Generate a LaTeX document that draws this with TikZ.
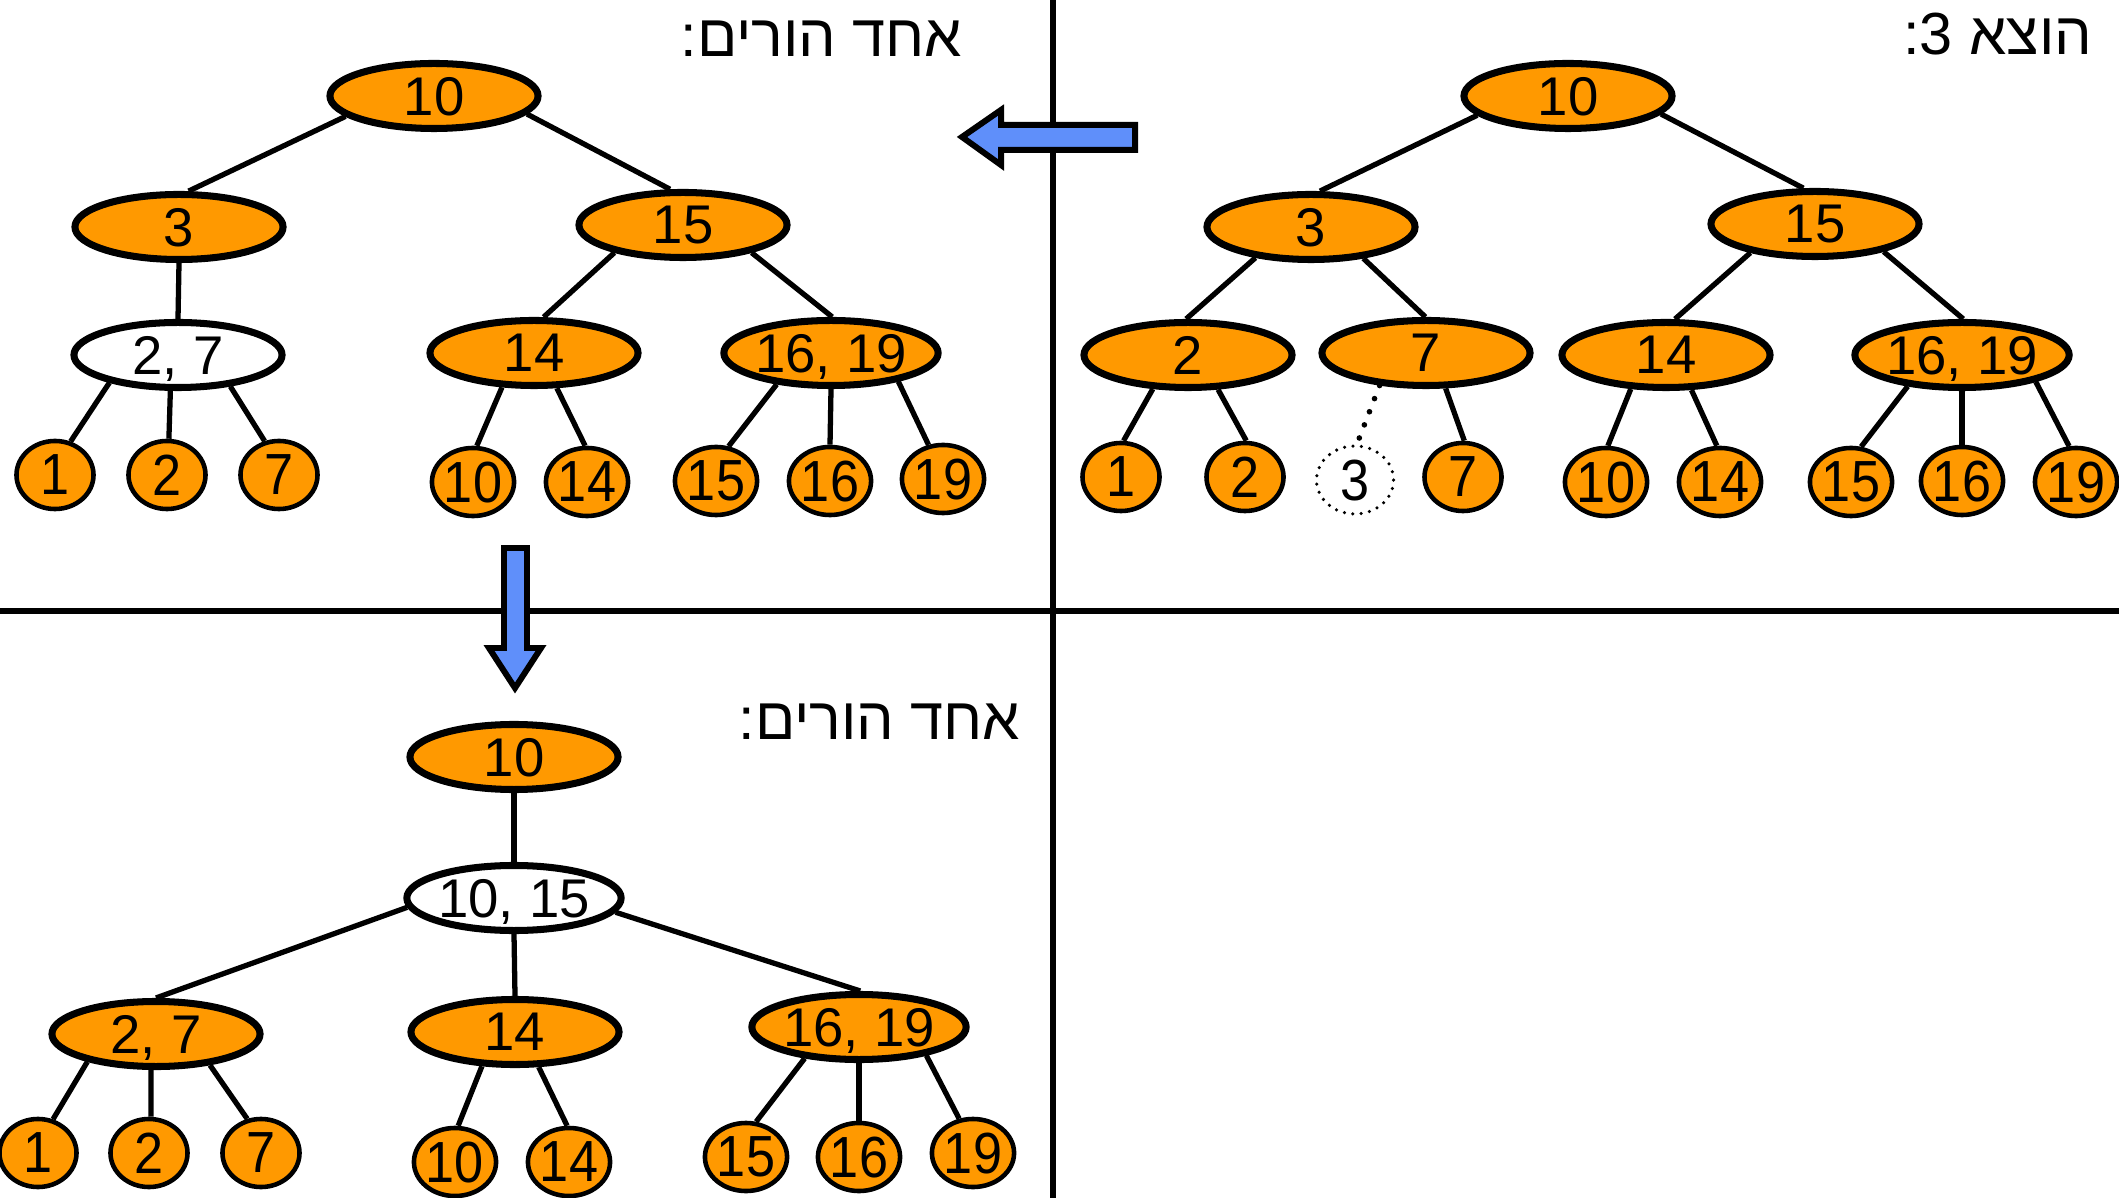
\documentclass[tikz,border=0pt]{standalone}
\usepackage{fontspec}
\setmainfont{Liberation Sans}
\newfontfamily\hebfont[Script=Hebrew]{Liberation Sans}
\newfontfamily\leaffont[FakeStretch=0.9]{Liberation Sans}
\TeXXeTstate=1
\usetikzlibrary{shapes.geometric}
\definecolor{nodeorange}{RGB}{255,153,0}
\definecolor{arrowblue}{RGB}{95,143,250}
\tikzset{
 inode/.style={ellipse, draw=black, line width=2pt, fill=nodeorange, minimum width=2.08cm, minimum height=0.65cm, inner sep=0pt, text depth=0pt, font=\fontsize{15.5}{16}\selectfont},
 wnode/.style={inode, fill=white},
 leaf/.style={ellipse, draw=black, line width=1.3pt, fill=nodeorange, minimum width=0.77cm, minimum height=0.68cm, inner sep=0pt, text depth=0pt, font=\leaffont\fontsize{16.5}{17}\selectfont},
 ghost/.style={leaf, fill=none, line width=1pt, dash pattern=on 0pt off 2.4pt, line cap=round},
 link/.style={line width=1.5pt},
 ghostlink/.style={line width=1.6pt, dash pattern=on 0pt off 4pt, line cap=round},
 divider/.style={line width=1.8pt},
 bigarrow/.style={draw=black, line width=1.7pt, fill=arrowblue, line join=miter},
 title/.style={anchor=base east, inner sep=0pt, font=\hebfont\fontsize{16.9}{18}\selectfont},
}
\begin{document}
\begin{tikzpicture}[x=0.01cm, y=-0.01cm]
\useasboundingbox (0,0) rectangle (2119,1198);
% dividers
\coordinate (vtop) at (1053,0); \coordinate (vbot) at (1053,1198);
\coordinate (hl) at (0,611); \coordinate (hr) at (2119,611);
\draw[divider] (vtop) -- (vbot);
\draw[divider] (hl) -- (hr);
% arrows
\draw[bigarrow] (962,137) -- (1001,110) -- (1001,125) -- (1135,125) -- (1135,150) -- (1001,150) -- (1001,165) -- cycle;
\draw[bigarrow] (515,688) -- (489,648) -- (504,648) -- (504,548) -- (527,548) -- (527,648) -- (541,648) -- cycle;
% titles
\node[title] (t1) at (2093,55) {\beginR הוצא 3:\endR};
\node[title] (t2) at (963,57) {\beginR אחד הורים:\endR};
\node[title] (t3) at (1021,739) {\beginR אחד הורים:\endR};
% top-right tree
\node[inode] (r10) at (1568,96) {10};
\node[inode] (r3) at (1311,227) {3};
\node[inode] (r15) at (1815,224) {15};
\node[inode] (r2) at (1188,355) {2};
\node[inode] (r7) at (1426,353) {7};
\node[inode] (r14) at (1666,355) {14};
\node[inode] (r1619) at (1962,355) {16, 19};
\node[leaf] (rl1) at (1121,477) {1};
\node[leaf] (rl2) at (1245,477) {2};
\node[ghost] (rl3) at (1355,480) {3};
\node[leaf] (rl7) at (1463,477) {7};
\node[leaf] (rl10) at (1606,482) {10};
\node[leaf] (rl14) at (1720,482) {14};
\node[leaf] (rl15) at (1851,482) {15};
\node[leaf] (rl16) at (1962,481) {16};
\node[leaf] (rl19) at (2076,482) {19};
\draw[link] (r10.192) -- (r3.76);
\draw[link] (r10.349) -- (r15.108);
\draw[link] (r3.209) -- (r2.93);
\draw[link] (r3.329) -- (r7.91);
\draw[link] (r15.204) -- (r14.76);
\draw[link] (r15.338) -- (r1619.88);
\draw[link] (r2.224) -- (rl1.86);
\draw[link] (r2.311) -- (rl2.88);
\draw[ghostlink] (r7.215) -- (rl3.87);
\draw[link] (r7.299) -- (rl7.88);
\draw[link] (r14.224) -- (rl10.87);
\draw[link] (r14.306) -- (rl14.95);
\draw[link] (r1619.210) -- (rl15.74);
\draw[link] (r1619.south) -- (rl16.north);
\draw[link] (r1619.340) -- (rl19.101);
% top-left tree
\node[inode] (l10) at (434,96) {10};
\node[inode] (l3) at (179,227) {3};
\node[inode] (l15) at (683,225) {15};
\node[wnode] (l27) at (178,355) {2, 7};
\node[inode] (l14) at (534,353) {14};
\node[inode] (l1619) at (831,353) {16, 19};
\node[leaf] (ll1) at (55,475) {1};
\node[leaf] (ll2) at (167,475) {2};
\node[leaf] (ll7) at (279,475) {7};
\node[leaf] (ll10) at (473,482) {10};
\node[leaf] (ll14) at (587,482) {14};
\node[leaf] (ll15) at (716,481) {15};
\node[leaf] (ll16) at (830,481) {16};
\node[leaf] (ll19) at (943,479) {19};
\draw[link] (l10.193) -- (l3.75);
\draw[link] (l10.349) -- (l15.110);
\draw[link] (l3.south) -- (l27.north);
\draw[link] (l15.202) -- (l14.75);
\draw[link] (l15.338) -- (l1619.88);
\draw[link] (l27.202) -- (ll1.65);
\draw[link] (l27.258) -- (ll2.87);
\draw[link] (l27.329) -- (ll7.113);
\draw[link] (l14.227) -- (ll10.84);
\draw[link] (l14.303) -- (ll14.93);
\draw[link] (l1619.210) -- (ll15.70);
\draw[link] (l1619.south) -- (ll16.north);
\draw[link] (l1619.337) -- (ll19.113);
% bottom tree
\node[inode] (b10) at (514,757) {10};
\node[wnode] (b1015) at (514,898) {10, 15};
\node[inode] (b27) at (156,1034) {2, 7};
\node[inode] (b14) at (515,1032) {14};
\node[inode] (b1619) at (859,1027) {16, 19};
\node[leaf] (bl1) at (38,1153) {1};
\node[leaf] (bl2) at (149,1153) {2};
\node[leaf] (bl7) at (261,1153) {7};
\node[leaf] (bl10) at (455,1162) {10};
\node[leaf] (bl14) at (569,1162) {14};
\node[leaf] (bl15) at (746,1157) {15};
\node[leaf] (bl16) at (859,1157) {16};
\node[leaf] (bl19) at (973,1153) {19};
\draw[link] (b10.south) -- (b1015.north);
\draw[link] (b1015.185) -- (b27.90);
\draw[link] (b1015.south) -- (b14.north);
\draw[link] (b1015.352) -- (b1619.88);
\draw[link] (b27.202) -- (bl1.66);
\draw[link] (b27.262) -- (bl2.87);
\draw[link] (b27.330) -- (bl7.112);
\draw[link] (b14.226) -- (bl10.85);
\draw[link] (b14.304) -- (bl14.93);
\draw[link] (b1619.210) -- (bl15.74);
\draw[link] (b1619.south) -- (bl16.north);
\draw[link] (b1619.337) -- (bl19.112);
\end{tikzpicture}
\end{document}
